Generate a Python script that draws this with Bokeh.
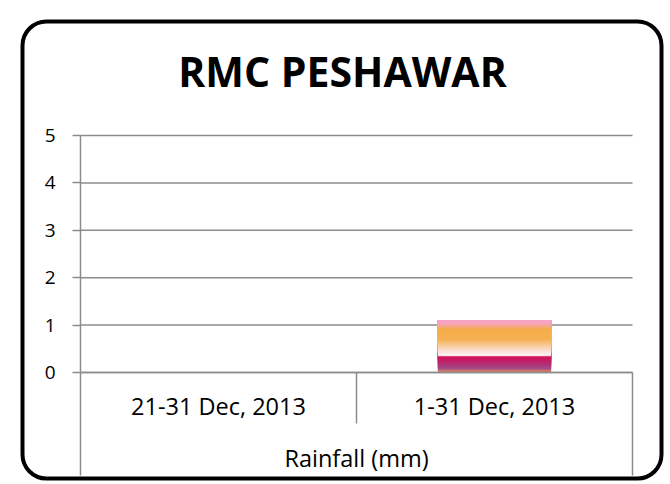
from bokeh.plotting import figure
from bokeh.models import Range1d, FixedTicker, BoxAnnotation, Label
from bokeh.core.properties import value
from bokeh.embed import file_html
from bokeh.resources import INLINE

# ---- data ----
title_text = "RMC PESHAWAR"
group_label = "Rainfall (mm)"
categories = ["21-31 Dec, 2013", "1-31 Dec, 2013"]
rainfall = [0.0, 1.1]
y_ticks = [0, 1, 2, 3, 4, 5]

# ---- gradient styling for the bar (fraction of bar height from bottom, colour) ----
grad_stops = [
    (0.00, "#dc845c"), (0.03, "#d07868"), (0.08, "#a24a88"), (0.15, "#ae3278"),
    (0.23, "#c41c66"), (0.30, "#d21258"), (0.325, "#fbe6ea"), (0.34, "#fdeef0"),
    (0.42, "#fbe0d6"), (0.52, "#f8ca96"), (0.64, "#f5b052"), (0.83, "#f5ad48"),
    (0.89, "#f5a890"), (0.95, "#f7a3c0"), (1.00, "#f7a3c8"),
]


def hex2rgb(h):
    h = h.lstrip("#")
    return tuple(int(h[i:i + 2], 16) for i in (0, 2, 4))


def interp(f):
    for (f0, c0), (f1, c1) in zip(grad_stops[:-1], grad_stops[1:]):
        if f0 <= f <= f1:
            t = 0 if f1 == f0 else (f - f0) / (f1 - f0)
            a, b = hex2rgb(c0), hex2rgb(c1)
            return "#%02x%02x%02x" % tuple(int(round(a[i] + (b[i] - a[i]) * t)) for i in range(3))
    return grad_stops[-1][1]


W, H = 670, 484
PX_PER_UNIT_Y = 47.4
ZERO_Y = 372          # pixel row of y = 0
PX_PER_CAT = 276.0
LEFT_X = 80           # pixel column of the category axis start
y_bottom = -(475 - ZERO_Y) / PX_PER_UNIT_Y

p = figure(width=W, height=H, output_backend="svg", toolbar_location=None,
           x_range=Range1d(-LEFT_X / PX_PER_CAT, (W - LEFT_X) / PX_PER_CAT),
           y_range=Range1d(-(H - ZERO_Y) / PX_PER_UNIT_Y, ZERO_Y / PX_PER_UNIT_Y),
           min_border=0)
p.outline_line_color = None
p.background_fill_color = "white"
p.border_fill_color = "white"
p.xaxis.visible = False
p.xgrid.visible = False
p.ygrid.visible = False

ya = p.yaxis[0]
ya.fixed_location = 0
ya.bounds = (y_bottom, max(y_ticks))
ya.ticker = FixedTicker(ticks=y_ticks)
ya.axis_line_color = "#8c8c8c"
ya.axis_line_width = 1.5
ya.major_tick_line_color = "#8c8c8c"
ya.major_tick_line_width = 1.5
ya.major_tick_out = 8
ya.major_tick_in = 0
ya.minor_tick_line_color = None
ya.major_label_standoff = 17
ya.major_label_text_font = "Open Sans"
ya.major_label_text_font_size = "19px"
ya.major_label_text_color = "#000000"

n_cat = len(categories)
cat_x = [i + 0.5 for i in range(n_cat)]

# horizontal grid lines at the y ticks
p.segment(x0=[0] * len(y_ticks), y0=y_ticks, x1=[n_cat] * len(y_ticks), y1=y_ticks,
          line_color="#8c8c8c", line_width=1.5)

# bars with vertical gradient built from overlapping slices
bar_w = 0.41
n_slices = 60
xs, bots, tops, cols = [], [], [], []
for cx, v in zip(cat_x, rainfall):
    if v <= 0:
        continue
    for i in range(n_slices):
        f0 = i / n_slices
        f1 = (i + 1) / n_slices
        xs.append(cx)
        bots.append(v * f0)
        tops.append(v)
        cols.append(interp((f0 + f1) / 2))
p.vbar(x=xs, bottom=bots, top=tops, width=bar_w, fill_color=cols, line_color=None)

# redraw zero line over the bar bottom
p.segment(x0=[0], y0=[0], x1=[n_cat], y1=[0], line_color="#8c8c8c", line_width=1.5)

# category separator lines below the zero line
p.segment(x0=[1.0], y0=[0], x1=[1.0], y1=[-(423 - ZERO_Y) / PX_PER_UNIT_Y],
          line_color="#8c8c8c", line_width=1.5)
p.segment(x0=[float(n_cat)], y0=[0], x1=[float(n_cat)], y1=[y_bottom],
          line_color="#8c8c8c", line_width=1.5)

# category labels and group label
p.text(x=cat_x, y=[-(405 - ZERO_Y) / PX_PER_UNIT_Y] * n_cat, text=categories,
       text_font=value("Open Sans"), text_font_size="23.5px", text_color="#000000",
       text_align="center", text_baseline="alphabetic")
p.text(x=[n_cat / 2], y=[-(457 - ZERO_Y) / PX_PER_UNIT_Y], text=[group_label],
       text_font=value("Open Sans"), text_font_size="23.5px", text_color="#000000",
       text_align="center", text_baseline="alphabetic")

# title
p.add_layout(Label(x=342, y=H - 70, x_units="screen", y_units="screen", text=title_text,
                   text_font="Open Sans", text_font_style="bold", text_font_size="41px",
                   text_color="#000000", text_align="center", text_baseline="alphabetic"))

# rounded chart border
p.add_layout(BoxAnnotation(left=22, right=661, top=H - 21, bottom=H - 478,
                           left_units="screen", right_units="screen",
                           top_units="screen", bottom_units="screen",
                           fill_color=None, fill_alpha=0, line_color="#000000",
                           line_alpha=1.0, line_width=4,
                           border_radius=24, level="overlay"))

open("out.html", "w").write(file_html(p, INLINE))
